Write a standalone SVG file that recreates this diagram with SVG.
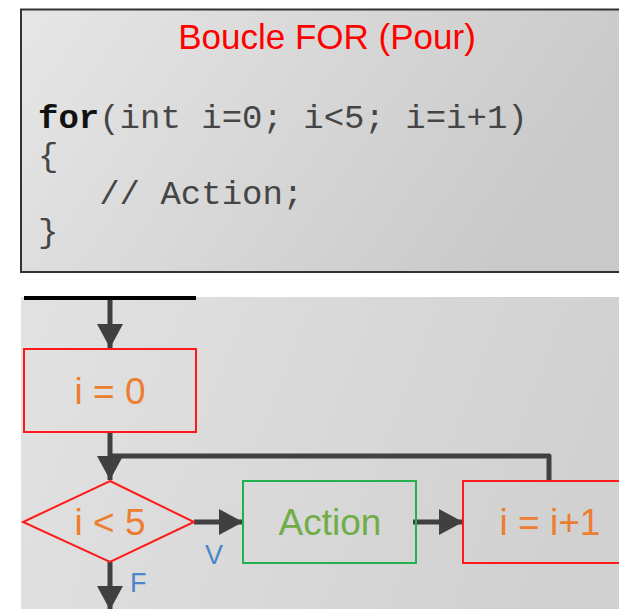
<svg xmlns="http://www.w3.org/2000/svg" width="619" height="609" viewBox="0 0 619 609">
  <defs>
    <linearGradient id="gTop" x1="0" y1="0" x2="1" y2="0.3">
      <stop offset="0" stop-color="#e6e6e6"/>
      <stop offset="1" stop-color="#c9c9c9"/>
    </linearGradient>
    <linearGradient id="gBot" x1="0" y1="0" x2="1" y2="0.2">
      <stop offset="0" stop-color="#e2e2e2"/>
      <stop offset="1" stop-color="#d1d1d1"/>
    </linearGradient>
    <marker id="arr" viewBox="0 0 24 26" refX="24" refY="13" markerWidth="24" markerHeight="26" markerUnits="userSpaceOnUse" orient="auto">
      <path d="M0,0 L24,13 L0,26 Z" fill="#404040"/>
    </marker>
  </defs>
  <style>
    .code { font-family: "Liberation Mono", "Courier New", monospace; font-size: 34px; fill: #454545; }
    .kw { font-weight: bold; fill: #111111; }
    .lbl { font-family: "Liberation Sans", Arial, sans-serif; font-size: 37px; text-anchor: middle; }
    .orange { fill: #ED7D31; }
    .redbox { fill: none; stroke: #ff1a1a; stroke-width: 2; }
    .greenbox { fill: none; stroke: #22B14C; stroke-width: 2; }
    .conn { fill: none; stroke: #404040; stroke-width: 5; stroke-linejoin: round; }
    .vf { font-family: "Liberation Sans", Arial, sans-serif; font-size: 27px; fill: #4A86C8; }
  </style>

  <rect width="619" height="609" fill="#ffffff"/>

  <g id="code-panel">
    <rect x="21" y="9.5" width="610" height="262.5" fill="url(#gTop)" stroke="#333333" stroke-width="2"/>
    <text x="327" y="49" font-family="Liberation Sans, Arial, sans-serif" font-size="35" fill="#ff0000" text-anchor="middle">Boucle FOR (Pour)</text>
    <text class="code" x="38" y="128"><tspan class="kw">for</tspan>(int i=0; i&lt;5; i=i+1)</text>
    <text class="code" x="38" y="166">{</text>
    <text class="code" x="38" y="204" xml:space="preserve">   // Action;</text>
    <text class="code" x="38" y="242">}</text>
  </g>

  <rect id="flow-panel" x="21" y="297" width="598" height="312" fill="url(#gBot)"/>

  <g id="connectors">
    <rect x="24" y="296" width="172" height="4" fill="#000000"/>
    <line class="conn" x1="110" y1="300" x2="110" y2="348" marker-end="url(#arr)"/>
    <line class="conn" x1="110" y1="432" x2="110" y2="480" marker-end="url(#arr)"/>
    <polyline class="conn" points="549,482 549,456 110,456"/>
    <line class="conn" x1="194" y1="522" x2="243" y2="522" marker-end="url(#arr)"/>
    <line class="conn" x1="413" y1="522" x2="463" y2="522" marker-end="url(#arr)"/>
    <line class="conn" x1="110" y1="562" x2="110" y2="610" marker-end="url(#arr)"/>
    <text class="vf" x="205" y="564">V</text>
    <text class="vf" x="130" y="592">F</text>
  </g>

  <g id="node-init">
    <rect class="redbox" x="24" y="349" width="172" height="83"/>
    <text class="lbl orange" x="110" y="404">i = 0</text>
  </g>

  <g id="node-cond">
    <polygon class="redbox" points="110,481 194,522 110,562 23,522"/>
    <text class="lbl orange" x="110" y="535">i &lt; 5</text>
  </g>

  <g id="node-action">
    <rect class="greenbox" x="243" y="481" width="173" height="82"/>
    <text class="lbl" x="330" y="535" fill="#70AD47">Action</text>
  </g>

  <g id="node-incr">
    <rect class="redbox" x="463" y="481" width="174" height="82"/>
    <text class="lbl orange" x="550" y="535">i = i+1</text>
  </g>
</svg>
